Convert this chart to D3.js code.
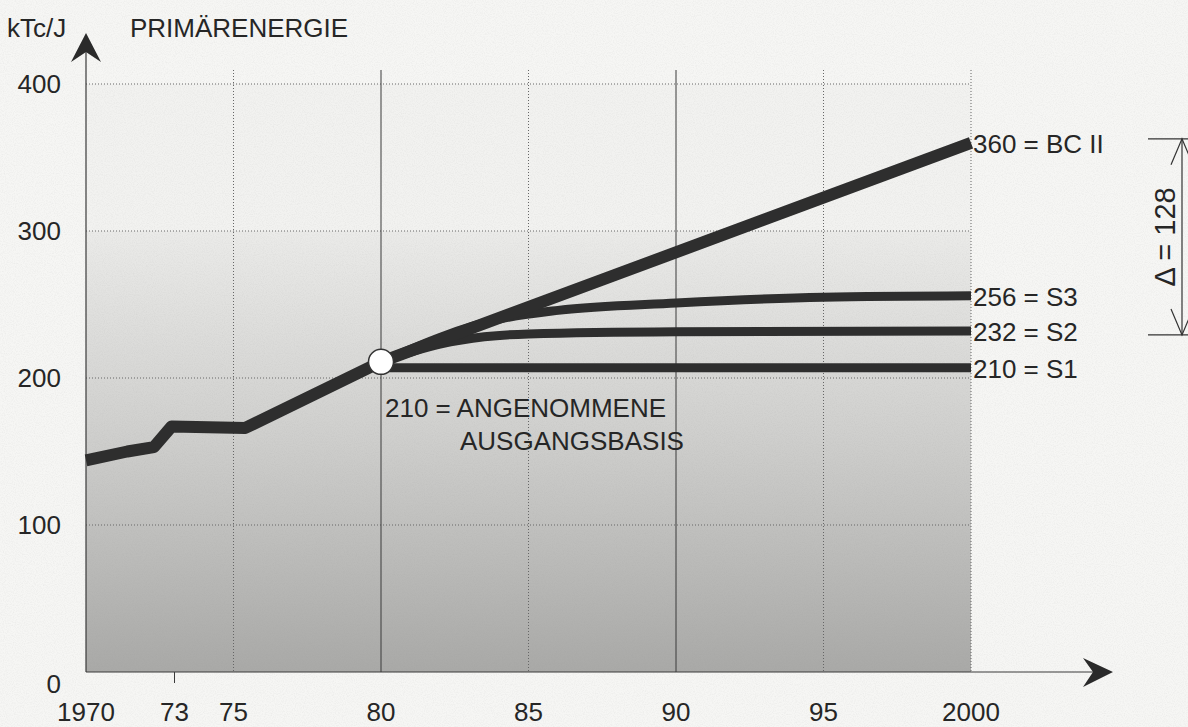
<!DOCTYPE html>
<meta charset="utf-8">
<style>
  body { margin: 0; background: #f6f6f4; }
  svg { display: block; }
  text { font-family: "Liberation Sans", Arial, sans-serif; fill: #262626; }
  .grid line { stroke: #666; stroke-width: 1; stroke-dasharray: 1,2; }
  .grid line.solid { stroke-dasharray: none; stroke: #3a3a3a; }
  .lbl { font-size: 26px; }
</style>
<body>
<script src="https://d3js.org/d3.v7.min.js"></script>
<script>

// Primärenergie, kTc/J
var baseYears = [1970, 1971.4, 1972.3, 1972.9, 1975.4, 1980, 2000];
var baseValues = [144, 150, 153, 167, 166, 211, 360];

var s1Years = [1980, 2000];
var s1Values = [207, 207];

var s2Years = [1980, 1982, 1983.5, 1985, 1990, 2000];
var s2Values = [211, 223, 228, 230, 231.5, 232];

var s3Years = [1980, 1984, 1986, 1990, 1995, 2000];
var s3Values = [211, 240, 246, 251, 255, 256];

var endLabels = ["360 = BC II", "256 = S3", "232 = S2", "210 = S1"];
var endValues = [360, 256, 232, 207];

var yTicks = [0, 100, 200, 300, 400];
var xTicks = [1970, 1973, 1975, 1980, 1985, 1990, 1995, 2000];
var xTickLabels = ["1970", "73", "75", "80", "85", "90", "95", "2000"];
var gridYears = [1975, 1980, 1985, 1990, 1995, 2000];

var width = 1188, height = 727;

var x = d3.scaleLinear().domain([1970, 2000]).range([86, 971]);
var y = d3.scaleLinear().domain([0, 400]).range([672, 84]);

var svg = d3.select("body").append("svg")
    .attr("width", width)
    .attr("height", height);

var defs = svg.append("defs");

var grad = defs.append("linearGradient")
    .attr("id", "shade")
    .attr("x1", 0).attr("y1", 0).attr("x2", 0).attr("y2", 1);
grad.append("stop").attr("offset", "0%").attr("stop-color", "#ebebe9");
grad.append("stop").attr("offset", "45%").attr("stop-color", "#d0d0ce");
grad.append("stop").attr("offset", "100%").attr("stop-color", "#a9a9a7");

var noise = defs.append("filter").attr("id", "grain")
    .attr("x", 0).attr("y", 0).attr("width", "100%").attr("height", "100%");
noise.append("feTurbulence")
    .attr("type", "fractalNoise")
    .attr("baseFrequency", 0.9)
    .attr("numOctaves", 2)
    .attr("seed", 3);
noise.append("feColorMatrix")
    .attr("type", "matrix")
    .attr("values", "0 0 0 0 0.3  0 0 0 0 0.3  0 0 0 0 0.3  0 0 0 0.5 -0.2");

// plot background
svg.append("rect")
    .attr("x", x(1970)).attr("y", y(400))
    .attr("width", x(2000) - x(1970))
    .attr("height", y(300) - y(400))
    .attr("fill", "#f2f2f0");

svg.append("rect")
    .attr("x", x(1970)).attr("y", y(300))
    .attr("width", x(2000) - x(1970))
    .attr("height", y(0) - y(300))
    .attr("fill", "url(#shade)");

svg.append("rect")
    .attr("x", 0).attr("y", 0)
    .attr("width", width).attr("height", height)
    .attr("filter", "url(#grain)")
    .attr("opacity", 0.4);

// grid
var grid = svg.append("g").attr("class", "grid");
grid.selectAll(".h")
    .data(yTicks.filter(function(d) { return d > 0; }))
  .enter().append("line")
    .attr("x1", x(1970)).attr("x2", x(2000))
    .attr("y1", function(d) { return y(d); })
    .attr("y2", function(d) { return y(d); });

grid.selectAll(".v")
    .data(gridYears)
  .enter().append("line")
    .attr("class", function(d) { return (d == 1980 || d == 1990) ? "solid" : null; })
    .attr("x1", function(d) { return x(d); })
    .attr("x2", function(d) { return x(d); })
    .attr("y1", y(400) - 14)
    .attr("y2", y(0));

// axes
var axisCol = "#3a3a3a";
svg.append("line")
    .attr("x1", x(1970)).attr("x2", x(1970))
    .attr("y1", 48).attr("y2", y(0))
    .attr("stroke", axisCol).attr("stroke-width", 1.2);
svg.append("line")
    .attr("x1", x(1970)).attr("x2", 1098)
    .attr("y1", y(0)).attr("y2", y(0))
    .attr("stroke", axisCol).attr("stroke-width", 1.2);

// arrow heads
svg.append("path")
    .attr("d", "M" + x(1970) + ",33 L" + (x(1970) + 15) + ",62 L" + x(1970) + ",52 L" + (x(1970) - 15) + ",62 Z")
    .attr("fill", "#2a2a2a");
svg.append("path")
    .attr("d", "M1113," + y(0) + " L1083," + (y(0) - 14) + " L1093," + y(0) + " L1083," + (y(0) + 15) + " Z")
    .attr("fill", "#2a2a2a");

// tick at 73
svg.append("line")
    .attr("x1", x(1973)).attr("x2", x(1973))
    .attr("y1", y(0)).attr("y2", y(0) + 11)
    .attr("stroke", axisCol);

// y labels
svg.selectAll(".ylab")
    .data(yTicks)
  .enter().append("text")
    .attr("class", "lbl")
    .attr("x", 61)
    .attr("y", function(d) { return d == 0 ? y(d) + 12 : y(d); })
    .attr("dy", "0.36em")
    .attr("text-anchor", "end")
    .text(function(d) { return d; });

// x labels
svg.selectAll(".xlab")
    .data(xTicks)
  .enter().append("text")
    .attr("class", "lbl")
    .attr("x", function(d) { return x(d); })
    .attr("y", 712)
    .attr("dy", "0.36em")
    .attr("text-anchor", "middle")
    .text(function(d, i) { return xTickLabels[i]; });

// titles
svg.append("text").attr("class", "lbl")
    .attr("x", 7).attr("y", 28).attr("dy", "0.36em")
    .text("kTc/J");
svg.append("text").attr("class", "lbl")
    .attr("x", 130).attr("y", 28).attr("dy", "0.36em")
    .text("PRIMÄRENERGIE");

// lines
var line = d3.line()
    .x(function(d) { return x(d[0]); })
    .y(function(d) { return y(d[1]); });

function pairs(xs, vs) { return xs.map(function(d, i) { return [d, vs[i]]; }); }

var lineCol = "#2e2e2e";
var scen = [[s1Years, s1Values], [s2Years, s2Values], [s3Years, s3Values]];
scen.forEach(function(s) {
  svg.append("path")
      .datum(pairs(s[0], s[1]))
      .attr("d", line.curve(d3.curveMonotoneX))
      .attr("fill", "none")
      .attr("stroke", lineCol)
      .attr("stroke-width", 9);
});

svg.append("path")
    .datum(pairs(baseYears, baseValues))
    .attr("d", line.curve(d3.curveLinear))
    .attr("fill", "none")
    .attr("stroke", lineCol)
    .attr("stroke-width", 12)
    .attr("stroke-linejoin", "round");

// start point
svg.append("circle")
    .attr("cx", x(1980)).attr("cy", y(211))
    .attr("r", 12.5)
    .attr("fill", "#fff")
    .attr("stroke", "#333")
    .attr("stroke-width", 1.5);

svg.append("text").attr("class", "lbl")
    .attr("x", 385).attr("y", 408).attr("dy", "0.36em")
    .text("210 = ANGENOMMENE");
svg.append("text").attr("class", "lbl")
    .attr("x", 460).attr("y", 441).attr("dy", "0.36em")
    .text("AUSGANGSBASIS");

// end labels
svg.selectAll(".endlab")
    .data(endLabels)
  .enter().append("text")
    .attr("class", "lbl")
    .attr("x", 973)
    .attr("y", function(d, i) { return y(endValues[i]) + 1; })
    .attr("dy", "0.36em")
    .text(function(d) { return d; });

// delta dimension
var dTop = y(360) - 4, dBot = y(232) + 4, dx = 1182;
var dim = svg.append("g").attr("stroke", "#333").attr("fill", "none").attr("stroke-width", 1.2);
dim.append("line").attr("x1", 1148).attr("x2", 1188).attr("y1", dTop).attr("y2", dTop);
dim.append("line").attr("x1", 1148).attr("x2", 1188).attr("y1", dBot).attr("y2", dBot);
dim.append("line").attr("x1", dx).attr("x2", dx).attr("y1", dTop).attr("y2", dBot);
dim.append("path").attr("d", "M" + (dx - 11) + "," + (dTop + 26) + " L" + dx + "," + dTop + " L" + (dx + 11) + "," + (dTop + 26));
dim.append("path").attr("d", "M" + (dx - 11) + "," + (dBot - 26) + " L" + dx + "," + dBot + " L" + (dx + 11) + "," + (dBot - 26));

svg.append("text")
    .attr("transform", "translate(1165," + ((dTop + dBot) / 2) + ") rotate(-90)")
    .attr("text-anchor", "middle")
    .attr("dy", "0.36em")
    .style("font-size", "29px")
    .text("Δ = 128");

</script>
